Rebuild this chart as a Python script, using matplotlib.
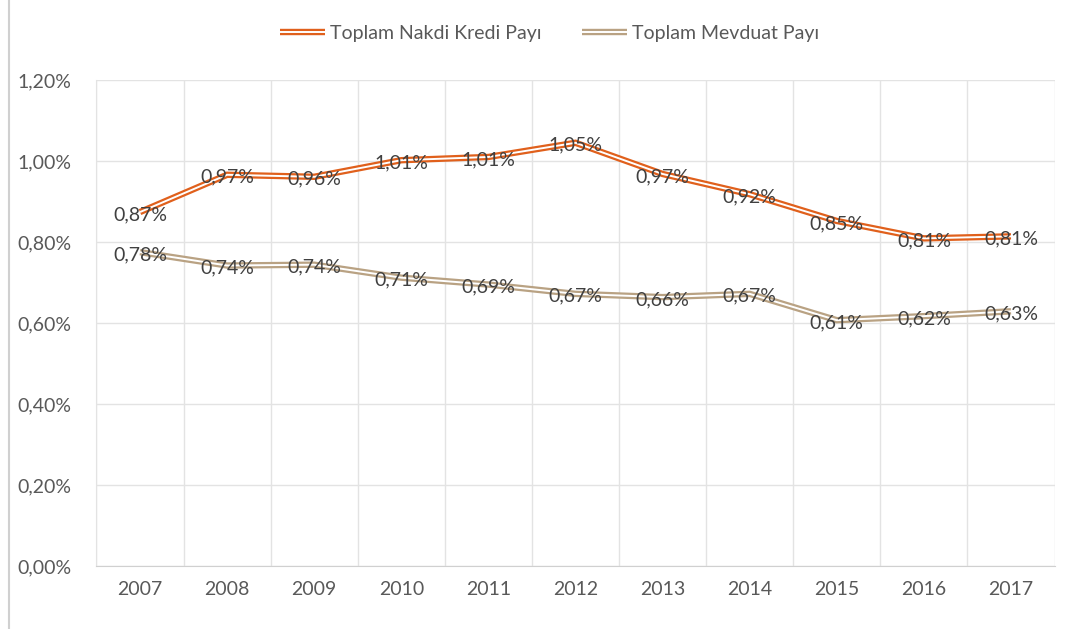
import matplotlib
matplotlib.use("Agg")
from matplotlib import pyplot as plt
from matplotlib.lines import Line2D
from matplotlib.patches import Rectangle
from matplotlib.legend_handler import HandlerTuple

years = ["2007", "2008", "2009", "2010", "2011", "2012", "2013", "2014", "2015", "2016", "2017"]
kredi = [0.874, 0.966, 0.961, 1.002, 1.010, 1.045, 0.968, 0.918, 0.852, 0.809, 0.814]
mevduat = [0.775, 0.742, 0.744, 0.712, 0.695, 0.672, 0.664, 0.672, 0.607, 0.617, 0.629]
kredi_labels = ["0,87%", "0,97%", "0,96%", "1,01%", "1,01%", "1,05%", "0,97%", "0,92%", "0,85%", "0,81%", "0,81%"]
mevduat_labels = ["0,78%", "0,74%", "0,74%", "0,71%", "0,69%", "0,67%", "0,66%", "0,67%", "0,61%", "0,62%", "0,63%"]
yticks = [0.0, 0.2, 0.4, 0.6, 0.8, 1.0, 1.2]
ytick_labels = ["0,00%", "0,20%", "0,40%", "0,60%", "0,80%", "1,00%", "1,20%"]

plt.rcParams['font.family'] = ['Lato', 'DejaVu Sans']
txt = "#595959"
orange = "#E0601C"
tan = "#B9A283"
fs = 14

fig = plt.figure(figsize=(10.73, 6.29), dpi=100)
ax = fig.add_axes([0.0899, 0.1001, 0.8929, 0.7727])
x = range(len(years))

for vals, col in [(kredi, orange), (mevduat, tan)]:
    ax.plot(x, vals, color=col, lw=4.6, solid_joinstyle="miter", solid_capstyle="butt", zorder=3)
    ax.plot(x, vals, color="white", lw=1.4, solid_joinstyle="miter", solid_capstyle="butt", zorder=4)

for i in x:
    ax.text(i, kredi[i] - 0.006, kredi_labels[i], ha="center", va="center", fontsize=fs, color="#404040", zorder=5)
    ax.text(i, mevduat[i] - 0.006, mevduat_labels[i], ha="center", va="center", fontsize=fs, color="#404040", zorder=5)

ax.set_xlim(-0.5, len(years) - 0.5)
ax.set_ylim(0, 1.2)
ax.set_yticks(yticks)
ax.set_yticklabels(ytick_labels)
ax.set_xticks(list(x))
ax.set_xticklabels(years)
ax.set_xticks([i + 0.5 for i in range(-1, len(years))], minor=True)
ax.grid(True, axis="y", which="major", color="#E3E3E3", lw=1)
ax.grid(True, axis="x", which="minor", color="#E3E3E3", lw=1)
ax.tick_params(axis="both", which="both", length=0, labelsize=fs, colors=txt, pad=11)
ax.tick_params(axis="y", pad=18)
for s in ["top", "right"]:
    ax.spines[s].set_visible(False)
ax.spines["left"].set_color("#E3E3E3")
ax.spines["bottom"].set_color("#D0D0D0")

handles = [
    (Line2D([], [], color=orange, lw=4.6, solid_capstyle="butt"),
     Line2D([], [], color="white", lw=1.4, solid_capstyle="butt")),
    (Line2D([], [], color=tan, lw=4.6, solid_capstyle="butt"),
     Line2D([], [], color="white", lw=1.4, solid_capstyle="butt")),
]
fig.legend(handles, ["Toplam Nakdi Kredi Payı", "Toplam Mevduat Payı"],
           handler_map={tuple: HandlerTuple(ndivide=1)},
           loc="center", bbox_to_anchor=(0.512, 0.947), ncol=2, frameon=False,
           fontsize=fs, labelcolor=txt, handlelength=2.3, handletextpad=0.25, columnspacing=2.1)

fig.patches.append(Rectangle((0.008, -0.01), 1.0, 1.02, transform=fig.transFigure,
                             fill=False, edgecolor="#D0D0D0", lw=1.5))

fig.savefig("out.png", dpi=100)
